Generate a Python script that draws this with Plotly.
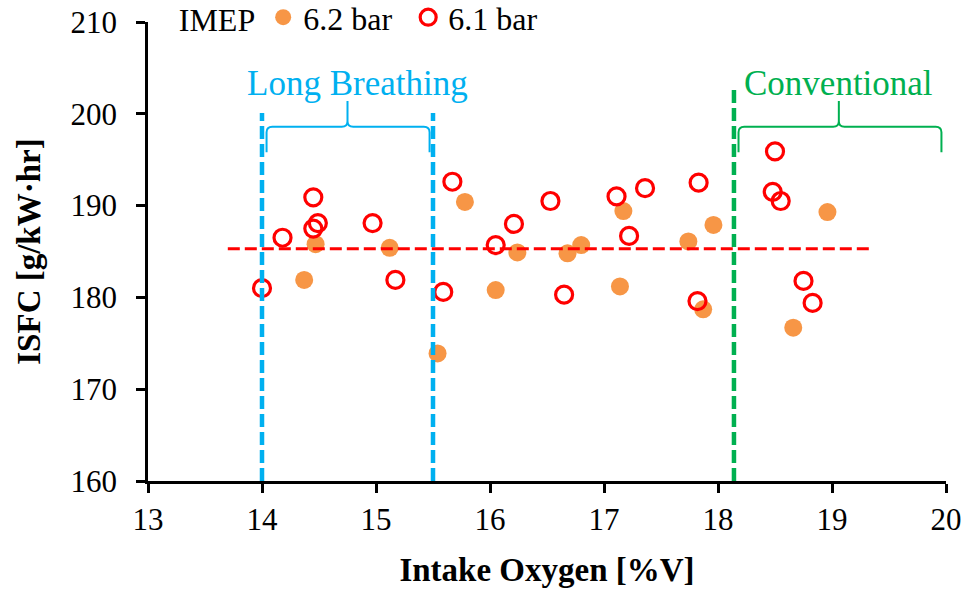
import plotly.graph_objects as go

# ---- data ----
# IMEP 6.2 bar (filled orange)
x62 = [14.37, 14.47, 15.12, 15.54, 15.78, 16.05, 16.24, 16.68, 16.80, 17.17,
       17.14, 17.74, 17.87, 17.96, 18.96, 18.66]
y62 = [181.9, 185.8, 185.4, 173.9, 190.4, 180.8, 184.9, 184.8, 185.7, 189.4,
       181.2, 186.1, 178.7, 187.9, 189.3, 176.7]
# IMEP 6.1 bar (open red)
x61 = [14.00, 14.18, 14.45, 14.45, 14.49, 14.97, 15.17, 15.67, 15.59, 16.05,
       16.21, 16.53, 16.65, 17.11, 17.36, 17.22, 17.83, 17.82, 18.50, 18.48,
       18.55, 18.75, 18.83]
y61 = [181.0, 186.5, 190.9, 187.5, 188.1, 188.1, 181.9, 192.6, 180.6, 185.7,
       188.0, 190.5, 180.3, 191.0, 191.9, 186.7, 192.5, 179.6, 195.9, 191.5,
       190.5, 181.8, 179.4]
# mean line
avg_x = [13.70, 19.36]
avg_y = [185.3, 185.3]
# region boundaries
lb_bounds = [14.0, 15.5]
lb_top = 200.1
conv_bound = 18.14
conv_top = 203.0
# braces: [left, centre, right], [bottom, bar, tip]
lb_brace_x = [14.04, 14.75, 15.47]
conv_brace_x = [18.18, 19.06, 19.96]
brace_y = [195.8, 198.6, 201.4]
labels = ["Long Breathing", "Conventional"]
label_x = [14.84, 19.06]
legend_names = ["6.2 bar", "6.1 bar"]

FONT = "Liberation Serif"
ORANGE = "#F79646"
RED = "#FF0000"
BLUE = "#00B0F0"
GREEN = "#00B050"

fig = go.Figure()
fig.add_trace(go.Scatter(x=x62, y=y62, mode="markers", name=legend_names[0],
                         marker=dict(color=ORANGE, size=18, line=dict(width=0))))
fig.add_trace(go.Scatter(x=x61, y=y61, mode="markers", name=legend_names[1],
                         marker=dict(color=RED, size=17, symbol="circle-open",
                                     line=dict(color=RED, width=3.2))))
fig.add_trace(go.Scatter(x=avg_x, y=avg_y, mode="lines", showlegend=False,
                         line=dict(color=RED, width=3, dash="12px,5px"), hoverinfo="skip"))
for xb in lb_bounds:
    fig.add_trace(go.Scatter(x=[xb, xb], y=[160, lb_top], mode="lines", showlegend=False,
                             line=dict(color=BLUE, width=4.5, dash="13px,5px"), hoverinfo="skip"))
fig.add_trace(go.Scatter(x=[conv_bound, conv_bound], y=[160, conv_top], mode="lines",
                         showlegend=False, line=dict(color=GREEN, width=4.5, dash="13px,5px"),
                         hoverinfo="skip", cliponaxis=False))


def brace_path(bx, by):
    x0, xc, x1 = bx
    yb, yh, yt = by
    dx = 0.05
    dy = 0.6
    return (f"M {x0},{yb} L {x0},{yh - dy} Q {x0},{yh} {x0 + dx},{yh} "
            f"L {xc - dx},{yh} Q {xc},{yh} {xc},{yh + dy} L {xc},{yt} "
            f"M {xc},{yh + dy} Q {xc},{yh} {xc + dx},{yh} "
            f"L {x1 - dx},{yh} Q {x1},{yh} {x1},{yh - dy} L {x1},{yb}")


fig.add_shape(type="path", xref="x", yref="y", path=brace_path(lb_brace_x, brace_y),
              line=dict(color=BLUE, width=2))
fig.add_shape(type="path", xref="x", yref="y", path=brace_path(conv_brace_x, brace_y),
              line=dict(color=GREEN, width=2))

for lx, txt, col in zip(label_x, labels, [BLUE, GREEN]):
    fig.add_annotation(x=lx, y=brace_y[2], xref="x", yref="y", text=txt,
                       showarrow=False, yanchor="bottom", yshift=-4,
                       font=dict(family=FONT, size=35, color=col))

fig.update_layout(
    width=967, height=591,
    margin=dict(l=148, r=21, t=22, b=110, autoexpand=False),
    paper_bgcolor="white", plot_bgcolor="white",
    font=dict(family=FONT, size=31, color="black"),
    showlegend=True,
    legend=dict(orientation="h", x=0.036, y=1.07, xanchor="left", yanchor="top",
                title=dict(text="IMEP", side="left", font=dict(family=FONT, size=32)),
                font=dict(family=FONT, size=32), bgcolor="rgba(0,0,0,0)",
                itemsizing="trace", tracegroupgap=0, itemwidth=30, entrywidth=100),
    xaxis=dict(range=[13, 20], dtick=1, tick0=13, showgrid=False, zeroline=False,
               showline=True, linecolor="black", linewidth=2.5, automargin=False,
               ticks="outside", ticklen=9, tickwidth=2.5, tickcolor="black",
               ticklabelstandoff=0, ticklabeloverflow="allow",
               title=dict(text="<b>Intake Oxygen [%V]</b>", standoff=22,
                          font=dict(family=FONT, size=33))),
    yaxis=dict(range=[160, 210], dtick=10, tick0=160, showgrid=False, zeroline=False,
               showline=True, linecolor="black", linewidth=2.5, automargin=False,
               ticks="outside", ticklen=9, tickwidth=2.5, tickcolor="black",
               ticklabelstandoff=13, ticklabeloverflow="allow",
               title=dict(text="<b>ISFC [g/kW·hr]</b>", standoff=20,
                          font=dict(family=FONT, size=33))),
)

fig.write_html("out.html", config={"displayModeBar": False},
               post_script="document.body.style.margin='0';")
